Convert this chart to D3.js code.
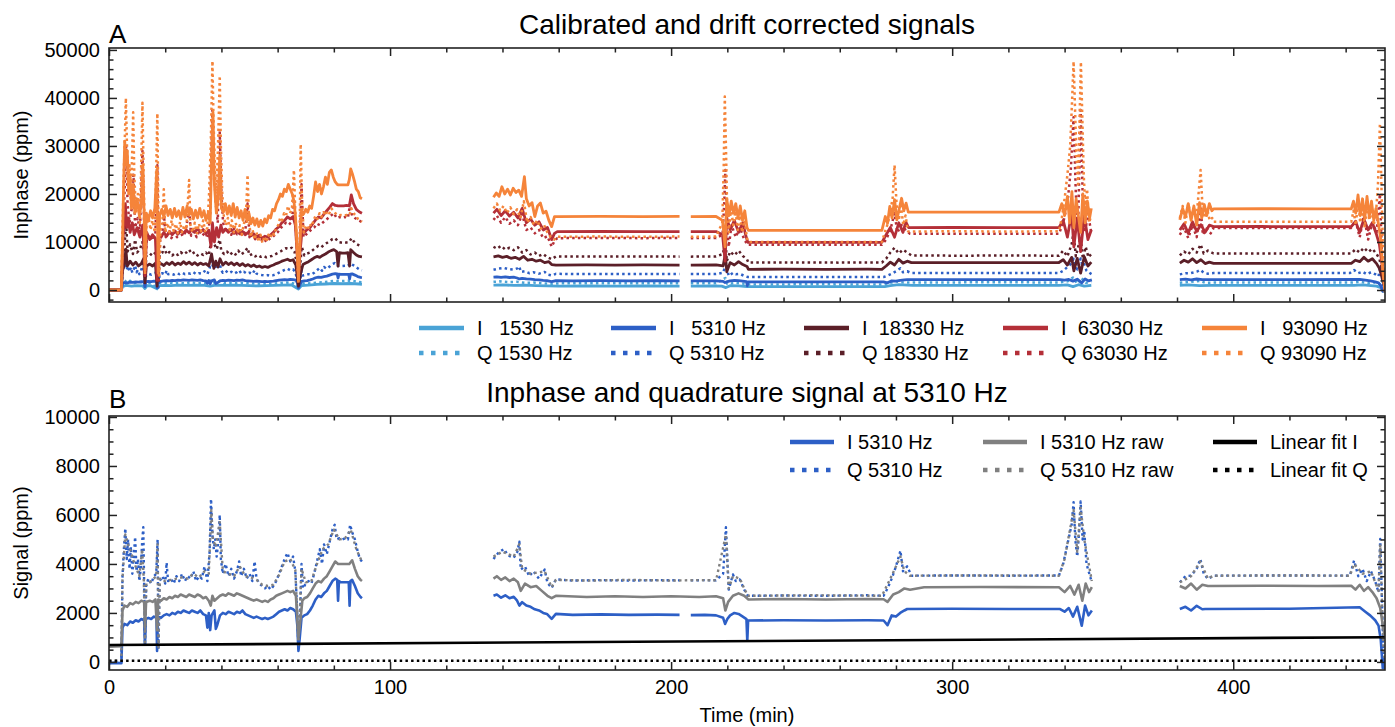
<!DOCTYPE html>
<html>
<head>
<meta charset="utf-8">
<script src="https://cdnjs.cloudflare.com/ajax/libs/d3/7.8.5/d3.min.js"></script>
<style>
  body { margin: 0; background: #fff; }
  text { font-family: "Liberation Sans", Arial, Helvetica, sans-serif; fill: #000; }
</style>
</head>
<body>
<div id="chart"></div>
<script>
// ---- data: [time (min), value (ppm)], null value = gap in recording ----
const I1530 = [[0,0],[4.4,0],[4.8,700],[6,950],[8,800],[10,900],[12,850],[12.8,300],[13.5,900],[15,850],[17.1,250],[17.6,900],[20,950],[22,900],[25,1000],[28,950],[31,1000],[34,950],[36,800],[38,1000],[41,950],[44,1000],[47,950],[50,900],[53,850],[56,900],[59,950],[62,1000],[65,1050],[67.4,200],[68.5,900],[71,1000],[74,1150],[77,1250],[80,1350],[83,1300],[86,1350],[89,1250],[90,1200],[90,null],
  [136.8,1000],[140,1050],[144,950],[148,1000],[152,900],[156,850],[160,800],[170,830],[180,800],[190,830],[203,810],[203.2,null],
  [207,820],[215,830],[218,800],[219.5,500],[221,900],[224,850],[227,700],[240,720],[255,700],[270,720],[276,700],[278,900],[281,1100],[284,1000],[286,950],[300,970],[320,950],[338,970],[341,1050],[343,700],[345,1100],[347,800],[349.5,950],[349.6,null],
  [381,950],[384,1050],[388,900],[392,980],[410,960],[430,980],[443,950],[446,1050],[449,900],[451,800],[452.5,500],[453.5,-300],[454,200]];

const Q1530 = [[0,0],[4.4,0],[4.8,1300],[5.5,2000],[6.5,1500],[7.5,1900],[9,1400],[10.5,1700],[12,1500],[12.8,300],[13.5,1500],[15,1400],[17.1,300],[17.6,1500],[19,1400],[21,1600],[23,1400],[25,1500],[27,1400],[29,1600],[31,1450],[33,1500],[35,1400],[36.5,2100],[37.5,1500],[39.5,1900],[41,1400],[43,1500],[45,1400],[47,1500],[49,1400],[51,1350],[53,1300],[55,1250],[57,1300],[59,1350],[61,1450],[63,1550],[65,1500],[66.5,1200],[67.4,200],[68.5,1400],[70,1300],[72,1400],[74,1550],[76,1600],[78,1750],[80,1900],[82,1850],[84,1900],[86,1950],[88,1750],[90,1600],[90,null],
  [136.8,1700],[139,1800],[142,1650],[145,1700],[148,1500],[151,1550],[154,1400],[157,1300],[160,1380],[175,1400],[190,1380],[203,1400],[203.2,null],
  [207,1400],[216,1380],[219.3,2500],[220,1300],[223,1450],[226,1300],[228,1150],[250,1180],[275,1150],[278,1500],[280,1800],[282,1600],[285,1550],[310,1600],[338,1580],[341,1800],[343,2600],[344.5,1300],[346,2500],[347.5,1500],[349.5,1600],[349.6,null],
  [381,1500],[384,1650],[388,1900],[390,1500],[393,1550],[420,1560],[442,1550],[445,1700],[448,1450],[450,1600],[452,1200],[453,2000],[454,-500]];

const I5310 = [[0,-60],[2,-40],[4.4,-50],[4.8,1400],[5.5,1550],[6.5,1500],[7.5,1650],[8.5,1600],[9.5,1700],[10.5,1650],[11.5,1750],[12.5,1700],[12.8,700],[13.1,1750],[14,1800],[15,1750],[16,1850],[16.9,1800],[17.1,450],[17.4,1850],[18.5,1800],[19.5,1900],[20.5,1950],[21.5,1900],[22.5,2000],[23.5,1950],[24.5,2050],[25.5,2000],[26.5,2100],[27.5,2050],[28.5,2000],[29.5,2100],[30.5,2050],[31.5,2000],[32.5,2100],[33.5,1950],[34.5,1900],[35,1400],[35.5,2000],[36,1300],[36.5,1900],[37.5,2100],[38,1350],[38.5,1500],[39.5,1900],[40.5,2000],[41.5,1950],[42.5,2050],[43.5,2000],[44.5,1950],[45.5,2050],[46.5,2000],[47.5,2100],[48.5,1950],[49.5,1900],[50.5,1850],[51.5,1800],[52.5,1850],[53.5,1800],[54.5,1750],[55.5,1800],[56.5,1750],[57.5,1800],[58.5,1850],[59.5,1950],[60.5,2050],[61.5,2100],[62.5,2150],[63.5,2100],[64.5,2200],[65.5,2150],[66.5,2050],[67,1500],[67.4,450],[67.8,900],[68.5,1800],[69.5,1900],[70.5,1950],[71.5,2100],[72.5,2300],[73.5,2550],[74.5,2700],[75.5,2650],[76.5,2800],[77.5,2900],[78.5,3100],[79.5,3300],[80.5,3400],[81.2,3350],[81.5,2500],[81.8,3300],[82.5,3250],[83.5,3250],[84.5,3250],[85.3,3250],[85.6,2300],[85.9,3300],[86.5,3350],[87.5,3100],[88.5,2800],[89.5,2650],[90,2600],[90,null],
  [136.8,2700],[138,2750],[139.5,2620],[141,2720],[142.5,2600],[144,2660],[145.2,2500],[146,2300],[147,2440],[148.5,2300],[150,2250],[151.5,2150],[153,2100],[154.5,2000],[155.8,1960],[157.5,1760],[159,1960],[165,1920],[175,1940],[185,1920],[195,1930],[203,1920],[203.2,null],
  [207,1910],[212,1920],[216,1900],[218.5,1800],[219.2,1550],[220,1750],[221,1900],[222.5,2000],[224,1960],[225.5,1850],[226.8,1750],[227.1,870],[227.4,1690],[240,1700],[255,1690],[270,1700],[275.6,1690],[277,1500],[278.5,1900],[280,1850],[281.5,2000],[283,2100],[284,2160],[300,2170],[320,2160],[338.4,2160],[340,2050],[341.5,2200],[343,1850],[344.5,2250],[346.1,1480],[347.3,2300],[348.5,1900],[349.7,2100],[349.8,null],
  [381,2160],[383,2250],[385,2100],[387,2290],[389,2150],[390,2160],[420,2170],[445,2230],[447,2050],[448.8,1890],[450.5,1700],[451.7,1480],[452.5,900],[453.2,-250],[453.6,150],[454,-300]];

const Q5310 = [[0,-20],[4.4,-10],[4.8,3500],[5.3,4600],[5.8,5450],[6.3,4200],[6.8,5000],[7.3,3800],[7.8,4700],[8.3,3600],[8.8,4300],[9.3,5100],[9.8,3700],[10.3,4200],[10.8,3300],[11.3,3800],[11.8,4900],[12.2,5500],[12.5,3200],[12.8,700],[13.2,3100],[14,3400],[15,3200],[16,3500],[16.8,3600],[17.3,5000],[17.6,500],[18,3300],[19,3500],[20,3200],[20.5,4050],[21,3300],[22,3400],[23,3200],[24,3500],[25,3300],[26,3600],[27,3300],[28,3500],[29,3400],[30,3700],[31,3300],[32,3500],[33,3400],[34,3900],[35,3300],[35.8,4500],[36.3,6650],[36.8,5200],[37.3,4600],[37.8,5000],[38.3,4300],[38.8,4800],[39.4,6000],[39.8,4200],[40.5,3600],[41.5,4000],[42.5,3500],[43.5,3800],[44.5,3400],[45.5,3700],[46.3,4100],[47,3500],[48,3800],[49,3400],[50,3600],[51,3300],[51.8,4100],[52.5,3400],[53.5,3200],[54.5,3100],[55.5,3000],[56.5,3100],[57.5,2950],[58.5,3100],[59.5,3300],[60.5,3600],[61.5,3900],[62.5,4200],[63.5,4450],[64.5,4100],[65.5,4300],[66.3,3700],[66.8,2500],[67.4,550],[67.9,1500],[68.5,4000],[69,3000],[70,3200],[71,3300],[72,3200],[73,3600],[74,4100],[75,4600],[75.8,4000],[76.5,4800],[77.5,4400],[78.5,4900],[79.5,5400],[80.3,5600],[81,5000],[82,5050],[83,5000],[84,5050],[85,5000],[85.8,5600],[86.5,5300],[87.5,5000],[88.5,4500],[89.3,4200],[90,4100],[90,null],
  [136.8,4200],[138.5,4450],[140.5,4610],[142,4350],[144,4250],[145.3,4500],[146,4910],[146.5,3770],[148,3900],[149.5,3500],[151,3700],[153,3400],[155,3770],[156,3230],[157.5,3020],[159,3370],[165,3320],[175,3340],[185,3320],[195,3340],[203,3330],[203.2,null],
  [207,3330],[212,3340],[216,3330],[218.5,3600],[219,4500],[219.5,5500],[220,4200],[220.5,2950],[222,3570],[223,3300],[224.4,3370],[226,2950],[227.3,2700],[240,2710],[255,2700],[270,2720],[275.6,2700],[277,3000],[278.5,3400],[280,3900],[281.6,4540],[282.5,3700],[284,3900],[285.5,3520],[300,3530],[320,3520],[338,3530],[339.5,4000],[341,4800],[342.5,5600],[343.2,6520],[343.8,5000],[344.5,4300],[345.1,5200],[345.7,6550],[346.4,5000],[347,5370],[347.8,4000],[348.8,3600],[349.7,3250],[349.8,null],
  [381,3250],[383,3500],[385,3520],[387,3800],[388.3,4200],[389.5,3600],[391,3390],[393,3520],[420,3530],[441.5,3520],[443,4140],[444.5,3500],[446,3800],[447.5,3300],[449,3700],[450.5,3300],[451.7,2840],[452.3,5020],[452.8,3000],[453.5,100],[454,-200]];

const I18330 = [[0,0],[4.4,0],[4.8,4000],[5.5,5500],[6,8500],[6.5,5000],[7.5,6000],[8.5,5200],[9.5,5800],[10.5,5000],[11.5,5500],[12.3,6500],[12.8,1500],[13.3,5000],[14.5,5400],[15.5,5000],[16.5,5600],[17.1,800],[17.5,5200],[18.5,5500],[19.5,5100],[20.5,5700],[21.5,5300],[22.5,5800],[23.5,5200],[24.5,5600],[25.5,5300],[26.5,5900],[27.5,5400],[28.5,5800],[29.5,5300],[30.5,5700],[31.5,5200],[32.5,5600],[33.5,5300],[34.5,5500],[35.5,5000],[36.5,7500],[37.3,4500],[38,6000],[38.8,4800],[39.5,6500],[40.5,5200],[41.5,5800],[42.5,5300],[43.5,5700],[44.5,5200],[45.5,5600],[46.5,5100],[47.5,5500],[48.5,5000],[49.5,5300],[50.5,4900],[51.5,5200],[52.5,4800],[53.5,5000],[54.5,4700],[55.5,4900],[56.5,4700],[57.5,5000],[58.5,5200],[59.5,5500],[60.5,5700],[61.5,6000],[62.5,6200],[63.5,6400],[64.5,6100],[65.5,6300],[66.5,5200],[67.4,800],[68.2,3500],[69,5300],[70,5600],[71,5900],[72,6300],[73,6700],[74,7000],[75,6800],[76,7200],[77,7500],[78,7900],[79,8200],[80,8400],[81,8000],[81.5,5000],[82,7800],[83,7700],[84,7700],[85,7800],[85.6,5000],[86,8400],[87,7800],[88,7300],[89,7000],[90,6900],[90,null],
  [136.8,6900],[138.5,7100],[140,6800],[141.5,7000],[143,6600],[144.5,6800],[146,6400],[147.5,7000],[149,6200],[150.5,6400],[152,6000],[153.5,6200],[155,5700],[156.5,5900],[157.5,5300],[159,5200],[170,5250],[180,5200],[190,5250],[203,5200],[203.2,null],
  [207,5200],[216,5250],[218.5,5000],[219.3,7500],[219.8,3800],[221,5700],[222.5,5200],[224,5900],[225.5,5300],[227,4900],[227.5,4300],[240,4350],[255,4300],[270,4330],[275,4300],[276.5,5000],[278,5800],[279.5,5200],[281,6400],[282.5,5600],[284,6000],[285.5,5700],[300,5720],[320,5700],[338,5720],[339.5,6300],[341,5200],[342.5,6800],[343.3,4000],[344.5,6600],[345.7,3500],[347,6900],[348.3,5000],[349.5,5800],[349.6,null],
  [381,5600],[382.5,6200],[384,5800],[385.5,6500],[387,5700],[388.5,6300],[390,5500],[391.5,5800],[393,5550],[410,5560],[430,5550],[442,5560],[443.5,6200],[445,5900],[446.5,6800],[448,6000],[449.5,6500],[451,5500],[452,4500],[453,2500],[454,400]];

const Q18330 = [[0,0],[4.4,0],[4.8,6000],[5.5,9000],[6.1,14000],[6.6,8000],[7.5,9500],[8.5,7500],[9.3,10500],[10,7800],[11,8500],[11.9,10000],[12.5,8000],[12.8,2000],[13.3,7200],[14.5,7600],[15.5,7100],[16.5,7800],[17.2,9500],[17.6,1500],[18,7400],[19,7800],[19.6,9000],[20.5,7400],[21.5,7900],[22.5,7200],[23.5,7700],[24.5,7300],[25.5,7900],[26.5,7400],[27.5,7800],[28.5,8400],[29.5,7500],[30.5,7900],[31.5,7200],[32.5,7600],[33.5,7300],[34.5,7800],[35.5,7200],[36.3,10000],[36.9,12000],[37.5,9500],[38.3,8500],[39.4,10500],[40,8000],[41,7500],[42,8000],[43,7300],[44,7900],[45,7400],[46,8200],[47,7400],[48,7800],[49.3,8800],[50,7200],[51,7500],[52,7000],[53,7300],[54,6900],[55,7100],[56,6800],[57,7000],[58,7100],[59,7400],[60,7700],[61,8000],[62,8400],[63,8700],[64,8500],[65,8800],[66,8000],[66.8,5500],[67.4,1000],[68,5000],[68.6,9000],[69.5,7200],[70.5,7600],[71.5,7800],[72.5,8300],[73.5,8800],[74.5,9200],[75.5,8900],[76.5,9400],[77.5,9800],[78.5,10200],[79.5,10600],[80.5,10800],[81.5,10000],[82.5,9900],[83.5,9800],[84.5,9900],[85.5,10000],[86.3,10800],[87,10200],[88,9600],[89,9300],[90,9000],[90,null],
  [136.8,9000],[138,8600],[139.5,9200],[141,8400],[142.5,8800],[144,8300],[145.5,8900],[147,7800],[148.5,8300],[150,7400],[151.5,7800],[153,7100],[154.5,7500],[156,6800],[157.5,6400],[159,7000],[170,6950],[185,7000],[203,6950],[203.2,null],
  [207,6950],[216,7000],[218.5,7500],[219.3,11000],[219.8,6000],[221,8000],[222.5,7200],[224,8200],[225.5,7100],[227,6400],[227.5,5700],[245,5720],[260,5700],[275,5720],[276.5,6500],[278,7800],[279.5,8800],[281,7600],[282.5,8400],[284,7800],[285.5,7200],[300,7150],[320,7170],[338,7150],[339.5,8200],[341,7000],[342.5,9500],[343.2,12000],[344,7000],[345.7,11000],[346.5,6500],[347.5,9000],[348.5,6800],[349.5,7500],[349.6,null],
  [381,7200],[382.5,8000],[384,7400],[385.5,8600],[387,7800],[388.4,9500],[389.5,7600],[391,8200],[393,7600],[410,7620],[430,7600],[442,7620],[443.5,8500],[445,7800],[446.5,8800],[448,7900],[449.5,8600],[451,7500],[452,6500],[453,4000],[454,500]];

const I63030 = [[0,0],[4.4,0],[4.8,8000],[5.3,14000],[5.8,18000],[6.3,13000],[6.8,15000],[7.5,12000],[8.3,14000],[9,11500],[10,13000],[11,11000],[12,13500],[12.8,3000],[13.4,12000],[14.5,10500],[15.5,11500],[16.5,10800],[17.1,2000],[17.6,11500],[18.5,11000],[19.5,12000],[20.5,11200],[21.5,12200],[22.5,11500],[23.5,12300],[24.5,11600],[25.5,12400],[26.5,11800],[27.5,12500],[28.5,11900],[29.5,12600],[30.5,12000],[31.5,12800],[32.5,12100],[33.5,12600],[34.5,11800],[35.5,12300],[36.3,9000],[36.8,14000],[37.5,10000],[38.3,13000],[39,11000],[39.8,13500],[40.5,12000],[41.5,12700],[42.5,12000],[43.5,12600],[44.5,11800],[45.5,12400],[46.5,11700],[47.5,12200],[48.5,11500],[49.5,12000],[50.5,11300],[51.5,11700],[52.5,11000],[53.5,11400],[54.5,10800],[55.5,11200],[56.5,11000],[57.5,11500],[58.5,12000],[59.5,12700],[60.5,13200],[61.5,14000],[62.5,14500],[63.5,15200],[64.5,14800],[65.5,15300],[66.3,13500],[66.9,8000],[67.4,2500],[68,8000],[68.7,12500],[69.5,12000],[70.5,12600],[71.5,13000],[72.5,13800],[73.5,14600],[74.5,15200],[75.5,15000],[76.5,15800],[77.5,16500],[78.5,17200],[79.5,18000],[80.5,17600],[81.5,17500],[82.5,17500],[83.5,17500],[84.5,17600],[85.5,17500],[86.2,19800],[87,18000],[88,16800],[89,16300],[90,16000],[90,null],
  [136.8,16000],[138,16800],[139.5,15500],[141,16500],[142.5,15400],[144,16200],[145.5,15000],[147,17000],[148.5,14000],[150,14800],[151.5,13500],[153,14200],[154.5,12500],[156,13000],[157.5,10500],[158.5,11800],[159.5,12150],[175,12180],[190,12150],[203,12170],[203.2,null],
  [207,12150],[216,12170],[218.3,11500],[219.2,6000],[219.8,15000],[221,12500],[222.5,14500],[224,12000],[225.5,14000],[226.5,11500],[227.3,9900],[245,9920],[260,9900],[275,9920],[276.5,11500],[278,13000],[279.5,11000],[281,14000],[282.5,12000],[283.5,14200],[284.5,13000],[300,13020],[320,13000],[338,13020],[339.5,14500],[341,11000],[342.5,16000],[343.3,9000],[344.5,15000],[345.7,8000],[347,15500],[348.3,10500],[349.5,12500],[349.6,null],
  [381,12500],[382.5,13800],[384,11800],[385.5,14200],[387,12200],[388.5,13600],[390,12000],[391.5,13500],[393,13200],[410,13220],[430,13200],[442,13220],[443.5,14300],[445,12000],[446.5,14800],[448,12500],[449.5,14000],[451,11500],[452,9500],[453,5000],[454,300]];

const Q63030 = [[0,0],[4.4,0],[4.8,9000],[5.5,20000],[6.1,30000],[6.6,18000],[7.3,14000],[8.1,17000],[8.7,24000],[9.3,13000],[10.2,15000],[11,12000],[11.9,29000],[12.5,14000],[12.8,3000],[13.4,10500],[14.5,11500],[15.5,10300],[16.5,11500],[17.2,26000],[17.7,2000],[18.2,10500],[19,11800],[19.5,16000],[20.2,11000],[21.2,11800],[22.2,10800],[23.2,12000],[24.2,11000],[25.2,12300],[26.2,11200],[27.2,12000],[28.5,17000],[29.2,11300],[30.2,12200],[31.2,11000],[32.2,12500],[33.2,11300],[34.2,12000],[35.2,10800],[36,16000],[36.8,38000],[37.4,25000],[38,18000],[38.7,14000],[39.4,33000],[40,20000],[40.6,14000],[41.5,12000],[42.5,13000],[43.5,11500],[44.5,12800],[45.5,11600],[46.5,12500],[47.5,11200],[48.5,12200],[49.3,18000],[50,11000],[51,11800],[52,10600],[53,11200],[54,10200],[55,10800],[56,10000],[57,10600],[58,10900],[59,11500],[60,12000],[61,12800],[62,13500],[63,14000],[64,13600],[65,14200],[65.8,19000],[66.5,12500],[67,7000],[67.4,1800],[67.9,9000],[68.5,22000],[69.2,11000],[70,11500],[71,12000],[72,12600],[73,13000],[74,13800],[75,13500],[76,14000],[77,14500],[78,15000],[79,15500],[80,16000],[81,15000],[82,15200],[83,15000],[84,15200],[85,15000],[85.8,18000],[86.5,15500],[87.5,15000],[88.5,14600],[89.5,14300],[90,14000],[90,null],
  [136.8,14600],[138,15500],[139.5,14000],[141,15200],[142.5,13800],[144,14500],[145.5,13500],[147,15800],[148.5,12500],[150,13000],[151.5,11800],[153,12500],[154.5,10800],[156,11200],[157.5,9000],[158.5,10200],[159.5,10800],[175,10820],[190,10800],[203,10820],[203.2,null],
  [207,10800],[216,10820],[218.3,11500],[218.9,18000],[219.3,25000],[219.8,14000],[220.5,9000],[221.5,13500],[223,11000],[224.5,13000],[226,10500],[227.3,9400],[245,9420],[260,9400],[275,9420],[276.5,10500],[278,12500],[279.5,16000],[280.5,12000],[282,13500],[283.5,12500],[285,11700],[300,11700],[320,11720],[338,11700],[339.5,14000],[341,18000],[342.2,25000],[343.2,36000],[344,20000],[344.8,13000],[345.7,37500],[346.5,18000],[347.3,12000],[348.3,16000],[349.5,12000],[349.6,null],
  [381,11500],[382.5,13000],[384,10800],[385.5,13500],[387,11000],[388.4,17000],[389.2,11500],[390.5,12800],[392,11800],[393,12900],[410,12920],[430,12900],[442,12920],[443.5,14500],[445,11000],[446.5,15500],[448,10500],[449.5,14000],[451,12000],[452.2,20000],[453,6000],[454,0]];

const I93090 = [[0,0],[4.4,0],[4.8,10000],[5.2,22000],[5.6,31000],[6,26000],[6.5,29000],[7,20000],[7.5,24000],[8,17000],[8.6,22000],[9.2,16000],[10,19000],[10.8,15500],[11.5,18000],[12,26000],[12.5,16000],[12.8,4000],[13.3,16000],[14,14500],[14.8,16500],[15.5,15000],[16.3,17000],[17,25000],[17.5,3500],[18,15500],[18.8,16800],[19.5,15200],[20.3,17500],[21,15500],[21.8,16800],[22.5,15000],[23.3,17000],[24,15300],[24.8,16500],[25.5,14800],[26.3,17200],[27,15200],[27.8,17500],[28.5,15600],[29.3,16800],[30,14800],[30.8,16600],[31.5,15000],[32.3,17000],[33,15200],[33.8,16500],[34.5,14500],[35.3,16000],[36,14000],[36.6,30000],[37,37000],[37.5,22000],[38.2,16000],[38.8,19000],[39.4,28000],[40,17000],[40.7,16200],[41.4,18000],[42.1,15800],[42.8,17500],[43.5,15500],[44.2,18000],[44.9,15200],[45.6,17200],[46.3,15000],[47,16500],[47.7,14500],[48.4,16800],[49.1,14300],[49.8,16000],[50.5,13800],[51.2,15000],[51.9,13500],[52.6,14800],[53.3,13200],[54,14500],[54.7,13300],[55.4,14800],[56.1,14000],[56.8,15500],[57.5,15000],[58.2,16800],[58.9,16500],[59.6,18000],[60.3,18800],[61,20000],[61.7,19500],[62.4,21000],[63.1,20500],[63.8,22000],[64.5,21000],[65.2,20000],[65.8,18500],[66.4,15000],[66.9,9000],[67.4,2000],[67.9,9000],[68.5,16500],[69.2,15800],[70,16800],[70.7,16200],[71.4,17500],[72.1,17000],[72.8,19500],[73.5,22500],[74.2,20500],[74.9,22000],[75.6,20000],[76.3,21500],[77,23500],[77.7,22000],[78.4,24500],[79.1,25000],[79.8,23500],[80.5,22500],[81.2,22000],[81.6,21900],[85,21900],[85.5,23000],[86,25200],[86.7,24000],[87.4,22500],[88,21000],[88.7,20500],[89.4,19200],[90,19000],[90,null],
  [136.8,19300],[137.8,20200],[138.8,19500],[139.8,21500],[140.8,20000],[141.8,21000],[142.8,19800],[143.8,21200],[144.8,20300],[145.8,20800],[146.8,19500],[147.8,23600],[148.5,19000],[149.5,17500],[150.5,18200],[151.5,15300],[152.5,17500],[153.5,18100],[154.5,16000],[155.5,16400],[156.5,14500],[157.5,13200],[158.5,15300],[159.4,15300],[175,15320],[190,15300],[203,15320],[203.2,null],
  [207,15300],[216,15320],[218.3,14500],[219.2,9000],[219.8,19000],[220.6,15500],[221.4,18500],[222.2,16000],[223,18000],[223.8,15000],[224.6,17500],[225.4,14500],[226.2,16500],[227,13000],[227.5,12400],[245,12420],[260,12400],[275,12420],[276.2,15300],[277,13900],[277.8,17400],[278.6,15000],[279.5,18800],[280.3,14600],[281.2,17000],[282,19100],[282.8,16500],[283.6,18100],[284.4,16200],[300,16220],[320,16200],[338,16220],[339,18000],[340,15500],[341,19500],[341.8,14000],[342.6,20500],[343.3,13000],[344.1,19000],[344.9,15500],[345.7,12000],[346.5,20000],[347.3,14000],[348.1,18500],[348.9,15000],[349.5,17000],[349.6,null],
  [381,14600],[382,17000],[383,15200],[384,18000],[385,14500],[386,17500],[387,13500],[388,18200],[388.8,15000],[389.7,17800],[390.6,15500],[391.5,18000],[392.4,16500],[393,16900],[410,16920],[430,16900],[442,16920],[442.8,18500],[443.6,16000],[444.4,19800],[445.2,15500],[446,19000],[446.8,14800],[447.6,19500],[448.4,15200],[449.2,18500],[450,14500],[450.8,17000],[451.6,14000],[452.4,11000],[453.2,4000],[454,-500]];

const Q93090 = [[0,0],[4.4,0],[4.8,12000],[5.3,25000],[5.7,33000],[6,40000],[6.4,30000],[6.8,22000],[7.3,26000],[7.8,18000],[8.3,30000],[8.6,37000],[9,24000],[9.6,16000],[10.3,20000],[11,14000],[11.6,30000],[11.9,39000],[12.3,25000],[12.6,15000],[12.8,3000],[13.3,13000],[14,15500],[14.8,12500],[15.5,14500],[16.3,12000],[16.9,28000],[17.2,36800],[17.5,20000],[17.8,3000],[18.3,12500],[19,14000],[19.5,21000],[20,12000],[20.8,14000],[21.5,12000],[22.3,14500],[23,12300],[23.8,13800],[24.5,11800],[25.3,14200],[26,12000],[26.8,13500],[27.5,12500],[28.5,22900],[29,13000],[29.8,12000],[30.5,14000],[31.3,11800],[32,13800],[32.8,12200],[33.5,14500],[34.3,12000],[35,13000],[35.6,20000],[36.2,30000],[36.8,47700],[37.2,35000],[37.7,25000],[38.2,20000],[38.8,30000],[39.4,44600],[39.8,30000],[40.3,20000],[40.9,15000],[41.6,13500],[42.3,15000],[43,12500],[43.7,14500],[44.4,12000],[45.1,14000],[45.8,11800],[46.5,13500],[47.2,11500],[48,13800],[48.7,15000],[49.3,24000],[49.8,15000],[50.4,11000],[51.1,12500],[51.8,10500],[52.5,12000],[53.2,10000],[53.9,11500],[54.6,9800],[55.3,11200],[56,10000],[56.7,11500],[57.4,10800],[58.1,12000],[58.8,11500],[59.5,13000],[60.2,13500],[60.9,15000],[61.6,14500],[62.3,16000],[63,15500],[63.7,17500],[64.4,16000],[65.1,17000],[65.8,25000],[66.3,16000],[66.9,8000],[67.4,1500],[67.8,10000],[68.2,30400],[68.7,18000],[69.3,12000],[70,13000],[70.7,12500],[71.4,13800],[72.1,13200],[72.8,14500],[73.5,15500],[74.2,14800],[74.9,16000],[75.6,15200],[76.3,16200],[77,15500],[77.7,16500],[78.4,16000],[79.1,17000],[79.8,16500],[80.5,16000],[81.5,15500],[82.5,15600],[83.5,15500],[84.5,15600],[85.5,15500],[86.2,17000],[87,16000],[87.8,15500],[88.6,14800],[89.4,14500],[90,14200],[90,null],
  [136.8,17000],[138,18000],[139.2,16500],[140.4,17500],[141.6,16000],[142.8,17200],[144,15800],[145.2,16800],[146.4,15000],[147.6,18500],[148.8,14000],[150,15200],[151.2,13500],[152.4,14500],[153.6,12800],[154.8,13500],[156,12000],[157.2,11000],[158.4,10500],[159.4,11100],[175,11120],[190,11100],[203,11120],[203.2,null],
  [207,11100],[216,11120],[218.2,14000],[218.7,25000],[219.1,40300],[219.5,30000],[219.9,18000],[220.5,12000],[221.3,17000],[222.1,13500],[222.9,16500],[223.7,12500],[224.5,15500],[225.3,12000],[226.1,14500],[227,10800],[227.5,10000],[245,10020],[260,10000],[275,10020],[276.3,12500],[277.2,14000],[278,16500],[278.8,19000],[279.5,26000],[280.2,18000],[281,14500],[281.8,17500],[282.6,13500],[283.4,15500],[284.3,12200],[300,12220],[320,12200],[338,12220],[339,15000],[340,19000],[341,24000],[342,30000],[342.7,40000],[343.2,47600],[343.7,38000],[344.2,28000],[344.8,22000],[345.3,35000],[345.8,47500],[346.3,36000],[346.8,24000],[347.4,17000],[348,21000],[348.7,14000],[349.5,15500],[349.6,null],
  [381,15000],[382,17500],[383,14000],[384,18000],[385,15000],[386,17000],[387,15500],[387.8,21000],[388.4,25000],[389,18000],[389.8,15000],[390.7,17000],[391.6,14500],[392.5,15000],[393,14200],[410,14220],[430,14200],[442,14220],[442.8,16500],[443.6,13500],[444.4,18500],[445.2,14000],[446,17500],[446.8,13000],[447.6,18000],[448.4,14500],[449.2,17000],[450,13500],[450.8,16000],[451.5,22000],[452.2,34700],[452.8,20000],[453.4,5000],[454,0]];

const I5310raw = [[0,620],[4.4,640],[4.8,2100],[5.5,2300],[6.5,2250],[7.5,2400],[8.5,2350],[9.5,2450],[10.5,2400],[11.5,2500],[12.5,2450],[12.8,1400],[13.2,2450],[14.5,2500],[15.5,2450],[16.5,2550],[17.1,1300],[17.5,2550],[18.5,2500],[19.5,2600],[20.5,2550],[21.5,2650],[22.5,2600],[23.5,2700],[24.5,2650],[25.5,2750],[26.5,2700],[27.5,2650],[28.5,2750],[29.5,2700],[30.5,2650],[31.5,2750],[32.5,2700],[33.5,2600],[34.5,2650],[35.5,2500],[36.2,2300],[36.8,2700],[37.5,2500],[38.5,2600],[39.5,2700],[40.5,2750],[41.5,2700],[42.5,2800],[43.5,2750],[44.5,2700],[45.5,2800],[46.5,2750],[47.5,2700],[48.5,2650],[49.5,2600],[50.5,2550],[51.5,2500],[52.5,2550],[53.5,2500],[54.5,2450],[55.5,2500],[56.5,2450],[57.5,2550],[58.5,2600],[59.5,2700],[60.5,2750],[61.5,2800],[62.5,2850],[63.5,2900],[64.5,2850],[65.5,2900],[66.5,2700],[67.4,1000],[68,1600],[68.8,2500],[69.5,2600],[70.5,2650],[71.5,2800],[72.5,3000],[73.5,3200],[74.5,3300],[75.5,3250],[76.5,3400],[77.5,3500],[78.5,3700],[79.5,3900],[80.5,4100],[81.5,4000],[82.5,4000],[83.5,4000],[84.5,4000],[85.5,4000],[86.5,4150],[87.5,3800],[88.5,3500],[89.5,3350],[90,3300],[90,null],
  [136.8,3400],[138,3500],[139.5,3350],[141,3450],[142.5,3300],[144,3400],[145.5,3250],[146.5,2900],[148,3200],[150,3050],[152,3100],[154,2900],[156,2700],[157.5,2600],[159,2700],[170,2650],[180,2680],[190,2650],[200,2680],[210,2650],[216,2680],[218.5,2600],[219.3,2100],[220.3,2450],[222,2700],[224,2800],[226,2700],[227.5,2550],[240,2570],[255,2550],[270,2570],[275.6,2560],[277,2450],[279,2750],[281,2850],[283,3000],[285,2950],[290,3050],[310,3060],[338,3050],[340,2850],[342,3100],[343.5,2750],[345,3150],[346.3,2500],[347.5,3200],[348.7,2850],[349.7,3050],[349.8,null],
  [381,3100],[383,3000],[385,3200],[387,2950],[389,3150],[391,3100],[410,3110],[430,3100],[442,3110],[443.5,2950],[445,3150],[446.5,2900],[448,3050],[449.5,2850],[451,2600],[452.3,2200],[453.2,1500],[454,1000]];

const Q5310raw = [[0,40],[4.4,50],[4.8,3400],[5.8,5200],[6.8,4800],[7.8,4500],[8.8,4100],[9.8,3800],[10.8,3500],[11.8,4600],[12.4,3300],[12.8,800],[13.3,3200],[15,3300],[16.8,3500],[17.3,4800],[17.6,600],[18.1,3400],[20,3300],[22,3350],[24,3400],[26,3450],[28,3400],[30,3600],[32,3450],[34,3700],[35.5,3600],[36.4,6200],[37,5000],[38,4700],[39.4,5700],[40.5,3700],[42.5,3600],[44.5,3500],[46.5,3900],[48.5,3500],[50.5,3450],[52.5,3350],[54.5,3150],[56.5,3100],[58.5,3150],[60.5,3550],[62.5,4100],[64.5,4200],[66.3,3750],[67.4,700],[68.5,3800],[70,3250],[72,3300],[74,4000],[76,4600],[78,4800],[80,5400],[82,5000],[84,5050],[86,5400],[88,4600],[90,4100],[90,null],
  [136.8,4300],[140,4500],[144,4300],[146,4800],[147,3800],[150,3600],[155,3700],[157.5,3050],[159,3350],[170,3320],[185,3350],[200,3320],[210,3340],[216,3330],[219.5,5200],[220.5,3000],[222,3500],[224.5,3400],[226,3000],[227.3,2700],[250,2720],[275,2700],[278,3400],[281.6,4300],[283,3700],[285,3520],[310,3530],[338,3520],[340,4200],[343.2,6200],[344.5,4500],[345.7,6300],[347,5000],[349.7,3300],[349.8,null],
  [381,3250],[385,3500],[388.3,4100],[391,3400],[393,3520],[420,3530],[441.5,3520],[443,4000],[446,3600],[449,3700],[451.7,2900],[452.3,4800],[453.5,300],[454,100]];

const fitI = [[0,690],[454,1010]];
const fitQ = [[0,50],[454,50]];

// ticks and labels
const xMajor = [0, 100, 200, 300, 400];
const yMajorA = [0, 10000, 20000, 30000, 40000, 50000];
const yMajorB = [0, 2000, 4000, 6000, 8000, 10000];
const labelsA = ["I   1530 Hz", "I   5310 Hz", "I  18330 Hz", "I  63030 Hz", "I   93090 Hz",
                 "Q 1530 Hz", "Q 5310 Hz", "Q 18330 Hz", "Q 63030 Hz", "Q 93090 Hz"];
const labelsB = ["I 5310 Hz", "I 5310 Hz raw", "Linear fit I", "Q 5310 Hz", "Q 5310 Hz raw", "Linear fit Q"];

const colors = {c1530: "#4aa3d6", c5310: "#2d5fc6", c18330: "#5b1f28", c63030: "#b42f38", c93090: "#f5843a", raw: "#808080", fit: "#000000"};
const dotted = "2.5,3.2";

const svg = d3.select("#chart").append("svg")
  .attr("width", 1395)
  .attr("height", 727);

const left = 109, right = 1385;
const x = d3.scaleLinear().domain([0, 454]).range([left, right]);
const yA = d3.scaleLinear().domain([-2500, 50400]).range([302, 48]);
const yB = d3.scaleLinear().domain([-330, 10040]).range([670, 416]);

// clip regions
const defs = svg.append("defs");
defs.append("clipPath").attr("id", "clipA").append("rect")
  .attr("x", left).attr("y", 48).attr("width", right - left).attr("height", 254);
defs.append("clipPath").attr("id", "clipB").append("rect")
  .attr("x", left).attr("y", 416).attr("width", right - left).attr("height", 254);

function drawAxes(y, yMajor, yMinorStep, showXLabels) {
  const top = y.range()[1], bottom = y.range()[0];
  const xMinor = d3.range(0, 455, 20).filter(d => xMajor.indexOf(d) < 0);
  const yMinor = d3.range(Math.ceil(y.domain()[0] / yMinorStep) * yMinorStep, y.domain()[1], yMinorStep)
    .filter(d => yMajor.indexOf(d) < 0);

  const ax = [];
  ax.push(svg.append("g").attr("transform", `translate(0,${bottom})`)
    .call(d3.axisBottom(x).tickValues(xMajor).tickSize(-8).tickPadding(10)
      .tickFormat(showXLabels ? d3.format("d") : "")));
  ax.push(svg.append("g").attr("transform", `translate(0,${bottom})`)
    .call(d3.axisBottom(x).tickValues(xMinor).tickSize(-4.5).tickFormat("")));
  ax.push(svg.append("g").attr("transform", `translate(0,${top})`)
    .call(d3.axisTop(x).tickValues(xMajor).tickSize(-8).tickFormat("")));
  ax.push(svg.append("g").attr("transform", `translate(0,${top})`)
    .call(d3.axisTop(x).tickValues(xMinor).tickSize(-4.5).tickFormat("")));
  ax.push(svg.append("g").attr("transform", `translate(${left},0)`)
    .call(d3.axisLeft(y).tickValues(yMajor).tickSize(-8).tickPadding(9).tickFormat(d3.format("d"))));
  ax.push(svg.append("g").attr("transform", `translate(${left},0)`)
    .call(d3.axisLeft(y).tickValues(yMinor).tickSize(-4.5).tickFormat("")));
  ax.push(svg.append("g").attr("transform", `translate(${right},0)`)
    .call(d3.axisRight(y).tickValues(yMajor).tickSize(-8).tickFormat("")));
  ax.push(svg.append("g").attr("transform", `translate(${right},0)`)
    .call(d3.axisRight(y).tickValues(yMinor).tickSize(-4.5).tickFormat("")));

  ax.forEach(g => {
    g.select(".domain").remove();
    g.selectAll(".tick line").attr("stroke", "#222").attr("stroke-width", 1.5);
    g.selectAll(".tick text").attr("font-size", 20).attr("fill", "#111")
      .attr("font-family", "Liberation Sans, Arial, sans-serif");
  });

  svg.append("rect")
    .attr("x", left).attr("y", top)
    .attr("width", right - left).attr("height", bottom - top)
    .attr("fill", "none").attr("stroke", "#222").attr("stroke-width", 1.6);
}

function drawSeries(data, y, clip, color, dash, width) {
  const line = d3.line()
    .defined(d => d[1] !== null)
    .x(d => x(d[0]))
    .y(d => y(d[1]));
  svg.append("path")
    .datum(data)
    .attr("clip-path", `url(#${clip})`)
    .attr("fill", "none")
    .attr("stroke", color)
    .attr("stroke-width", width)
    .attr("stroke-linejoin", "round")
    .attr("stroke-dasharray", dash)
    .attr("d", line);
}

// ---------- panel A ----------
const seriesA = [
  [I1530, colors.c1530, null], [Q1530, colors.c1530, dotted],
  [I5310, colors.c5310, null], [Q5310, colors.c5310, dotted],
  [I18330, colors.c18330, null], [Q18330, colors.c18330, dotted],
  [I63030, colors.c63030, null], [Q63030, colors.c63030, dotted],
  [I93090, colors.c93090, null], [Q93090, colors.c93090, dotted]
];
seriesA.forEach(s => drawSeries(s[0], yA, "clipA", s[1], s[2], s[2] ? 2.5 : 2.8));
drawAxes(yA, yMajorA, 2000, false);

// ---------- panel B ----------
const seriesB = [
  [I5310, colors.c5310, null], [Q5310, colors.c5310, dotted],
  [I5310raw, colors.raw, null], [Q5310raw, colors.raw, dotted],
  [fitI, colors.fit, null], [fitQ, colors.fit, dotted]
];
seriesB.forEach(s => drawSeries(s[0], yB, "clipB", s[1], s[2], s[2] ? 2.4 : 2.6));
drawAxes(yB, yMajorB, 500, true);

// ---------- titles and labels ----------
svg.append("text").attr("x", 747).attr("y", 34).attr("text-anchor", "middle")
  .attr("font-size", 28).text("Calibrated and drift corrected signals");
svg.append("text").attr("x", 747).attr("y", 402).attr("text-anchor", "middle")
  .attr("font-size", 28).text("Inphase and quadrature signal at 5310 Hz");
svg.append("text").attr("x", 109).attr("y", 43).attr("font-size", 26).text("A");
svg.append("text").attr("x", 109).attr("y", 408).attr("font-size", 26).text("B");

svg.append("text")
  .attr("transform", "translate(28,175) rotate(-90)")
  .attr("text-anchor", "middle").attr("font-size", 20).text("Inphase (ppm)");
svg.append("text")
  .attr("transform", "translate(28,543) rotate(-90)")
  .attr("text-anchor", "middle").attr("font-size", 20).text("Signal (ppm)");
svg.append("text").attr("x", 747).attr("y", 722).attr("text-anchor", "middle")
  .attr("font-size", 20).text("Time (min)");

// ---------- legends ----------
function legendItem(lx, ly, len, color, dash, label) {
  svg.append("line")
    .attr("x1", lx).attr("x2", lx + len).attr("y1", ly).attr("y2", ly)
    .attr("stroke", color).attr("stroke-width", 4.5)
    .attr("stroke-dasharray", dash ? "4.5,7.5" : null);
  svg.append("text")
    .attr("x", lx + len + 13).attr("y", ly).attr("dy", "0.35em")
    .attr("font-size", 20).style("white-space", "pre")
    .text(label);
}

const legendColorsA = [colors.c1530, colors.c5310, colors.c18330, colors.c63030, colors.c93090];
const legendColsA = [419, 611, 804, 1003, 1202];
legendColorsA.forEach((c, i) => {
  legendItem(legendColsA[i], 328, 45, c, false, labelsA[i]);
  legendItem(legendColsA[i], 353, 45, c, true, labelsA[i + 5]);
});

const legendColorsB = [colors.c5310, colors.raw, colors.fit];
const legendColsB = [790, 983, 1213];
legendColorsB.forEach((c, i) => {
  legendItem(legendColsB[i], 442, 44, c, false, labelsB[i]);
  legendItem(legendColsB[i], 470, 44, c, true, labelsB[i + 3]);
});
</script>
</body>
</html>
